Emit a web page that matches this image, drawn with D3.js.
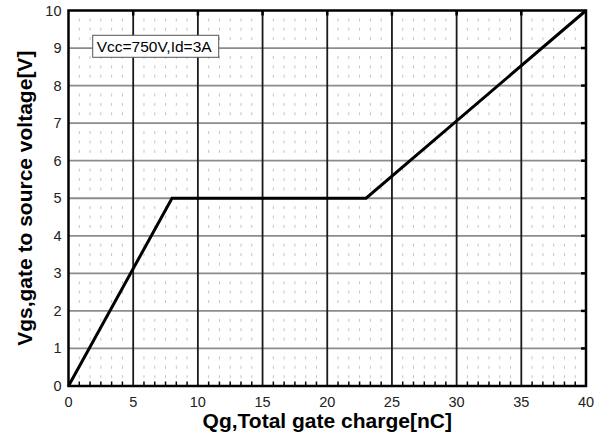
<!DOCTYPE html>
<html>
<head>
<meta charset="utf-8">
<script src="https://cdn.jsdelivr.net/npm/d3@7"></script>
<style>
  body { margin: 0; background: #fff; }
  text { font-family: "Liberation Sans", Arial, sans-serif; }
</style>
</head>
<body>
<div class="chart"></div>
<script>
// gate charge curve
const qg = [0, 8, 23, 40];
const vgs = [0, 5, 5, 10];
const xTicks = [0, 5, 10, 15, 20, 25, 30, 35, 40];
const yTicks = [0, 1, 2, 3, 4, 5, 6, 7, 8, 9, 10];
const noteText = "Vcc=750V,Id=3A";

const margin = {top: 10.5, right: 19, bottom: 52, left: 68.5},
      width = 605 - margin.left - margin.right,
      height = 438 - margin.top - margin.bottom;

const svg = d3.select(".chart")
  .append("svg")
    .attr("width", 605)
    .attr("height", 438)
  .append("g")
    .attr("transform", `translate(${margin.left},${margin.top})`);

const x = d3.scaleLinear().domain([0, 40]).range([0, width]);
const y = d3.scaleLinear().domain([0, 10]).range([height, 0]);

// minor positions: 6 steps per 5 units in x, 4 steps per unit in y
const xMinor = [];
for (let i = 1; i < 48; i++) if (i % 6 != 0) xMinor.push(i * 5 / 6);
const yMinor = [];
for (let j = 1; j < 40; j++) if (j % 4 != 0) yMinor.push(j / 4);

let dots = [];
for (let a of xMinor) for (let b of yMinor) dots.push([a, b]);

svg.append("g")
  .selectAll("line")
  .data(dots)
  .enter().append("line")
    .attr("x1", d => x(d[0])).attr("x2", d => x(d[0]))
    .attr("y1", d => y(d[1]) - 1.5).attr("y2", d => y(d[1]) + 1.5)
    .style("stroke", "#c4c4c4")
    .style("stroke-width", 1);

// horizontal gridlines
svg.append("g")
  .selectAll("line")
  .data(yTicks.slice(1, -1))
  .enter().append("line")
    .attr("x1", 0).attr("x2", width)
    .attr("y1", d => y(d)).attr("y2", d => y(d))
    .style("stroke", "#8c8c8c")
    .style("stroke-width", 1.8);

// vertical gridlines
svg.append("g")
  .selectAll("line")
  .data(xTicks.slice(1, -1))
  .enter().append("line")
    .attr("x1", d => x(d)).attr("x2", d => x(d))
    .attr("y1", 0).attr("y2", height)
    .style("stroke", "#1a1a1a")
    .style("stroke-width", 1.8);

// minor ticks on bottom, major ticks on top & right
svg.append("g")
  .selectAll("line")
  .data(xMinor)
  .enter().append("line")
    .attr("x1", d => x(d)).attr("x2", d => x(d))
    .attr("y1", height).attr("y2", height - 4.5)
    .style("stroke", "#000")
    .style("stroke-width", 1.5);
svg.append("g")
  .selectAll("line")
  .data(xTicks.slice(1, -1))
  .enter().append("line")
    .attr("x1", d => x(d)).attr("x2", d => x(d))
    .attr("y1", 0).attr("y2", 5)
    .style("stroke", "#000")
    .style("stroke-width", 2.5);
svg.append("g")
  .selectAll("line")
  .data(yTicks.slice(1, -1))
  .enter().append("line")
    .attr("x1", width).attr("x2", width - 5)
    .attr("y1", d => y(d)).attr("y2", d => y(d))
    .style("stroke", "#000")
    .style("stroke-width", 2.5);

// frame
svg.append("rect")
  .attr("width", width)
  .attr("height", height)
  .style("fill", "none")
  .style("stroke", "#000")
  .style("stroke-width", 2.5);

// curve
const line = d3.line()
  .x((d, i) => x(qg[i]))
  .y(d => y(d));
svg.append("path")
  .datum(vgs)
  .attr("d", line)
  .style("fill", "none")
  .style("stroke", "#000")
  .style("stroke-width", 3)
  .style("stroke-linejoin", "miter");

// note box
const note = svg.append("g")
  .attr("transform", `translate(${x(1.87)},${y(9.34)})`);
note.append("rect")
  .attr("width", 126)
  .attr("height", 22)
  .style("fill", "#fff")
  .style("stroke", "#555")
  .style("stroke-width", 1);
note.append("text")
  .attr("x", 4)
  .attr("y", 17)
  .style("font-size", "15.5px")
  .text(noteText);

// tick labels
svg.append("g")
  .selectAll("text")
  .data(xTicks)
  .enter().append("text")
    .attr("x", d => x(d))
    .attr("y", height + 21)
    .attr("text-anchor", "middle")
    .style("font-size", "14.5px")
    .style("fill", "#222")
    .text(d => d);
svg.append("g")
  .selectAll("text")
  .data(yTicks)
  .enter().append("text")
    .attr("x", -7)
    .attr("y", d => y(d) + 5)
    .attr("text-anchor", "end")
    .style("font-size", "14.5px")
    .style("fill", "#222")
    .text(d => d);

// axis titles
svg.append("text")
  .attr("x", width / 2)
  .attr("y", height + 42)
  .attr("text-anchor", "middle")
  .style("font-size", "21px")
  .style("font-weight", "bold")
  .text("Qg,Total gate charge[nC]");
svg.append("text")
  .attr("transform", `translate(${-37},${height / 2}) rotate(-90)`)
  .attr("text-anchor", "middle")
  .style("font-size", "21px")
  .style("font-weight", "bold")
  .text("Vgs,gate to source voltage[V]");
</script>
</body>
</html>
